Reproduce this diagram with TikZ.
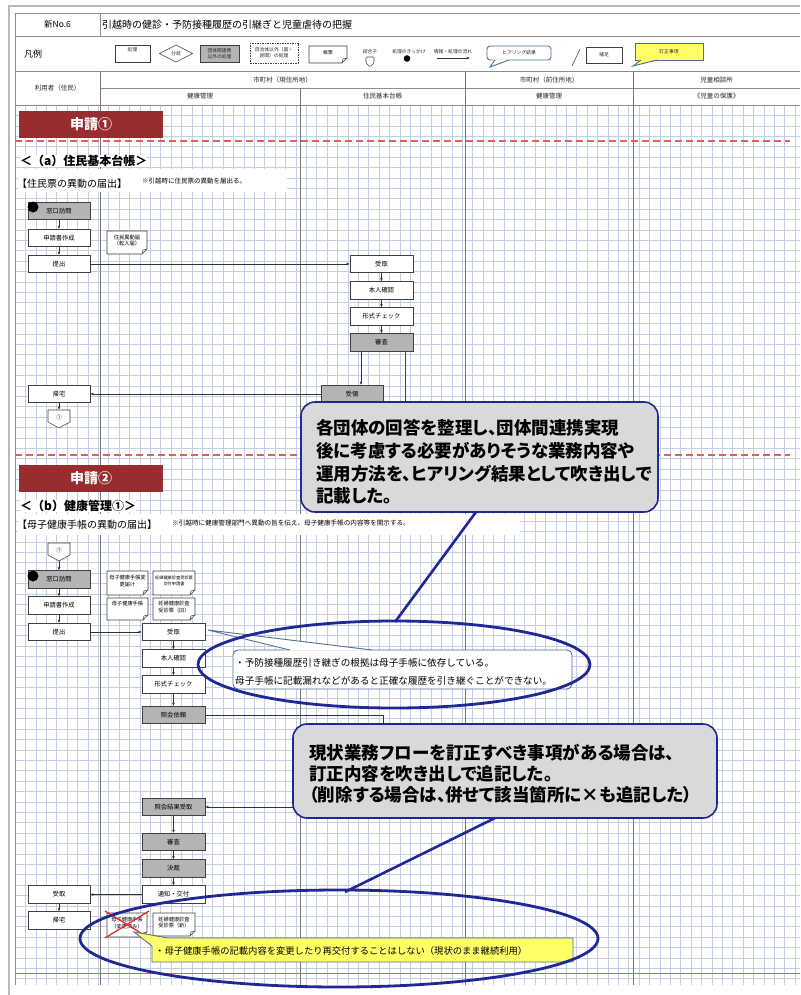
\documentclass[tikz,border=0pt]{standalone}
\usepackage{fontspec}
\setmainfont{Noto Sans CJK JP}
\newfontfamily\pjp{Noto Sans CJK JP}[RawFeature=+palt]
\usetikzlibrary{arrows.meta}
\definecolor{gridc}{RGB}{196,205,226}
\definecolor{lanec}{RGB}{120,120,120}
\definecolor{hdrc}{RGB}{140,140,140}
\definecolor{boxg}{RGB}{180,180,180}
\definecolor{secred}{RGB}{152,44,46}
\definecolor{dashred}{RGB}{222,96,96}
\definecolor{cblue}{RGB}{32,40,150}
\definecolor{cfill}{RGB}{217,217,219}
\definecolor{sblue}{RGB}{84,112,150}
\definecolor{yfill}{RGB}{255,255,102}
\definecolor{xred}{RGB}{225,45,45}
\newcommand\fsz[2]{\fontsize{#1}{#2}\selectfont}
% document shape: name x1 y1 x2 y2 size lead text
\newcommand\docnode[8]{%
  \draw[boxline,fill=white] (#2,#3) -- (#4,#3) -- (#4,{#5-5}) -- ({#4-5},#5) -- (#2,#5) -- cycle;
  \draw[boxline] (#4,{#5-5}) -- ({#4-4},{#5-4}) -- ({#4-5},#5);
  \node[inner sep=0,align=center,font=\fsz{#6}{#7}] (#1) at ({(#2+#4)/2},{(#3+#5)/2-2}) {#8};}
% off-page connector: name xcenter ytop
\newcommand\connode[3]{%
  \draw[boxline,fill=white] ({#2-11},#3) -- ({#2+11},#3) -- ({#2+11},{#3+12}) -- (#2,{#3+18}) -- ({#2-11},{#3+12}) -- cycle;
  \node[inner sep=0,minimum width=22,minimum height=18] (#1) at (#2,{#3+9}) {};
  \node[inner sep=0,font=\fsz{5.5}{6}] (#1t) at (#2,{#3+7}) {①};}
\begin{document}
\begin{tikzpicture}[x=1pt,y=-1pt,
 boxline/.style={draw=black!75,line width=0.55},
 proc/.style={boxline,fill=white,minimum width=62,minimum height=17.5,inner sep=0,font=\fsz{6.3}{7.5}},
 procg/.style={proc,fill=boxg},
 arr/.style={-{Latex[length=3.2pt,width=2.8pt]},line width=0.55,draw=black!80},
 ln/.style={line width=0.55,draw=black!75},
 hdr/.style={draw=hdrc,line width=0.8},
 lane/.style={draw=lanec,line width=0.8},
 htext/.style={inner sep=0,font=\fsz{6.5}{7.5},text=black!85},
 ltext/.style={inner sep=0,font=\fsz{4.8}{5.8},text=black!85},
 sec/.style={fill=secred,minimum width=144,minimum height=27,inner sep=0,text=white,font=\fsz{14}{16}\bfseries},
 big/.style={draw=cblue,fill=cfill,line width=1.6,rounded corners=14},
 ptr/.style={draw=cblue,line width=2.6},
 ell/.style={draw=cblue,line width=2.8},
 rdash/.style={draw=dashred,line width=1.3,dash pattern=on 7pt off 4pt},
 sub/.style={inner sep=0,anchor=west,font=\fsz{12}{14}\bfseries},
]
\useasboundingbox (0,0) rectangle (800,995);
\fill[white] (0,0) rectangle (800,995);
% grid
\foreach \i in {0,...,75}{\draw[gridc,line width=0.4] ({15+\i*10.4},105) -- ({15+\i*10.4},985);}
\foreach \j in {0,...,84}{\draw[gridc,line width=0.4] (15,{105+\j*10.4}) -- (800,{105+\j*10.4});}
% outer frame
\draw[gray!55,line width=2] (8,6) -- (800,6);
\draw[gray!55,line width=1.4] (9,6) -- (9,995);
% header table
\draw[hdr] (15,13) -- (800,13);
\draw[hdr] (15,36) -- (800,36);
\draw[hdr] (15,71) -- (800,71);
\draw[hdr] (100,88) -- (800,88);
\draw[hdr] (15,105) -- (800,105);
\draw[hdr] (15,13) -- (15,985);
\draw[hdr] (100,13) -- (100,36);
\draw[lane] (100,71) -- (100,985);
\draw[lane] (300,88) -- (300,985);
\draw[lane] (465,71) -- (465,985);
\draw[lane] (633,71) -- (633,985);
% title row
\node[inner sep=0,font=\fsz{8.5}{10}] (t1) at (57.5,24.5) {新No.6};
\node[inner sep=0,anchor=west,font=\fsz{10}{12}] (t2) at (102,24.5) {引越時の健診・予防接種履歴の引継ぎと児童虐待の把握};
\node[inner sep=0,font=\fsz{9}{10}] (t3) at (33,54) {凡例};
% legend
\draw[boxline] (115,45) rectangle (150,62);
\node[ltext] (lg1) at (132.5,50) {処理};
\draw[boxline,fill=white] (159.5,53.5) -- (176,45) -- (192.5,53.5) -- (176,62) -- cycle;
\node[ltext] (lg2) at (176,53.5) {分岐};
\draw[boxline,fill=boxg] (200,45) rectangle (239,62);
\node[ltext,align=center] (lg3) at (219.5,53.5) {団体間連携\\以外の処理};
\draw[boxline,dash pattern=on 1.5pt off 1pt] (250,43) rectangle (298,63);
\node[ltext,align=center] (lg4) at (274,53) {自治体以外（国・\\民間）の処理};
\docnode{lg5}{309}{46}{347}{63}{4.8}{5.8}{帳票}
\node[ltext] (lg6) at (370,52) {結合子};
\draw[boxline,fill=white,rounded corners=1.2] (366,57) -- (374,57) -- (374,63) -- (370,67) -- (366,63) -- cycle;
\node[ltext] (lg7) at (409,52) {処理のきっかけ};
\fill (407,58.5) circle (3.3);
\node[ltext] (lg8) at (453,52) {情報・処理の流れ};
\coordinate (la1) at (437,58);
\coordinate (la2) at (470,58);
\draw[arr] (la1) -- (la2);
\draw[draw=sblue,line width=0.9,fill=white,rounded corners=3] (487,46) rectangle (551,60);
\fill[white] (490,67) -- (494.5,59.3) -- (509.5,59.3) -- cycle;
\draw[draw=sblue,line width=0.9] (495,60) -- (490,67) -- (509,60);
\node[ltext] (lg9) at (519,53) {ヒアリング結果};
\draw[boxline] (572,66) -- (580,49);
\draw[boxline] (586,47) rectangle (622,63);
\node[ltext] (lg10) at (604,55) {補足};
\draw[draw=sblue,line width=0.9,fill=yfill] (635,43) rectangle (703,60);
\fill[yfill] (633,66) -- (640.5,59.3) -- (657.5,59.3) -- cycle;
\draw[draw=sblue,line width=0.9] (641,60) -- (633,66) -- (657,60);
\node[ltext] (lg11) at (669,51.5) {訂正事項};
% column headers
\node[htext] (h1) at (57.5,88) {利用者（住民）};
\node[htext] (h2) at (282.5,80) {市町村（現住所地）};
\node[htext] (h3) at (549,80) {市町村（前住所地）};
\node[htext] (h4) at (716.5,80) {児童相談所};
\node[htext] (h5) at (200,96.5) {健康管理};
\node[htext] (h6) at (382.5,96.5) {住民基本台帳};
\node[htext] (h7) at (549,96.5) {健康管理};
\node[htext] (h8) at (716.5,96.5) {《児童の保護》};
% section lines
\draw[rdash] (15,141) -- (790,141);
\draw[rdash] (15,455) -- (790,455);
\draw[draw=dashred,line width=0.8] (15,973) -- (800,973);
% ---------- section 1 ----------
\node[sec] (s1) at (91,124.5) {申請①};
\node[sub,fill=white] (ta) at (20,161) {＜（a）住民基本台帳＞};
\fill[white] (18,169) rectangle (287,192);
\node[inner sep=0,anchor=west,font=\fsz{10}{12}] (na) at (17,184) {【住民票の異動の届出】};
\node[inner sep=0,anchor=west,font=\fsz{6.5}{7.5}] (nna) at (142,181) {※引越時に住民票の異動を届出る。};
\node[procg] (a1) at (59,211) {窓口訪問};
\fill (33,207) circle (5.5);
\node[proc] (a2) at (59,238) {申請書作成};
\node[proc] (a3) at (59,264) {提出};
\docnode{da}{107}{231}{147}{254}{5.3}{6.6}{住民異動届\\（転入届）}
\node[proc,minimum width=63] (a4) at (381.5,264) {受取};
\node[proc,minimum width=63] (a5) at (381.5,290.5) {本人確認};
\node[proc,minimum width=63] (a6) at (381.5,316.5) {形式チェック};
\node[procg,minimum width=63] (a7) at (381.5,342.5) {審査};
\node[procg] (a8) at (352,394) {受領};
\node[proc] (a9) at (59,394) {帰宅};
\connode{ca}{59}{410}
\coordinate (h1x) at (405,430);
\draw[arr] (a1) -- (a2);
\draw[arr] (a2) -- (a3);
\draw[arr] (a3) -- (a4);
\draw[arr] (a4) -- (a5);
\draw[arr] (a5) -- (a6);
\draw[arr] (a6) -- (a7);
\draw[arr] ([xshift=-20.5]a7.south) -- ([xshift=-20.5]a7.south |- a8.north);
\draw[ln] (a7.south -| h1x) -- (h1x);
\draw[arr] (a8) -- (a9);
\draw[arr] (a9) -- (ca);
% ---------- section 2 ----------
\node[sec] (s2) at (91,478.5) {申請②};
\node[sub,fill=white] (tb) at (20,506) {＜（b）健康管理①＞};
\fill[white] (18,514) rectangle (520,535);
\node[inner sep=0,anchor=west,font=\fsz{10}{12}] (nb) at (17,525) {【母子健康手帳の異動の届出】};
\node[inner sep=0,anchor=west,font=\fsz{6.6}{7.5}] (nnb) at (172,523) {※引越時に健康管理部門へ異動の旨を伝え、母子健康手帳の内容等を開示する。};
\connode{cb}{59}{543}
\node[procg] (b1) at (59,579.5) {窓口訪問};
\fill (33,576) circle (5.5);
\node[proc] (b2) at (59,605.5) {申請書作成};
\node[proc] (b3) at (59,632) {提出};
\docnode{d1}{107}{571}{148}{595}{5.2}{6.6}{母子健康手帳変\\更届け}
\docnode{d2}{153}{571}{195}{595}{4.2}{5.6}{妊婦健康診査受診票\\交付申請書}
\docnode{d3}{107}{598}{148}{620}{5.2}{6.6}{母子健康手帳\\ }
\docnode{d4}{153}{598}{195}{620}{5.2}{6.6}{妊婦健康診査\\受診票（旧）}
\node[proc,minimum width=63] (r1) at (173.5,632) {受取};
\node[proc,minimum width=63] (r2) at (173.5,658.5) {本人確認};
\node[proc,minimum width=63] (r3) at (173.5,684.5) {形式チェック};
\node[procg,minimum width=63] (r4) at (173.5,715) {照会依頼};
\node[procg,minimum width=63] (r5) at (173.5,807) {照会結果受取};
\node[procg,minimum width=63] (r6) at (173.5,842) {審査};
\node[procg,minimum width=63] (r7) at (173.5,868.5) {決裁};
\node[proc,minimum width=63] (r8) at (173.5,894.5) {通知・交付};
\node[proc] (b4) at (59,894.5) {受取};
\node[proc] (b5) at (59,920.5) {帰宅};
\docnode{d5}{107}{913}{147}{937}{5.2}{6.6}{母子健康手帳\\（変更済み）}
\docnode{d6}{153}{913}{195}{936}{5.2}{6.6}{妊婦健康診査\\受診票（新）}
\draw[xred,line width=1.3] (105,911) -- (149,938);
\draw[xred,line width=1.3] (149,911) -- (105,938);
\coordinate (turn) at (383,0);
\draw[arr] (cb) -- (b1);
\draw[arr] (b1) -- (b2);
\draw[arr] (b2) -- (b3);
\draw[arr] (b3) -- (r1);
\draw[arr] (r1) -- (r2);
\draw[arr] (r2) -- (r3);
\draw[arr] (r3) -- (r4);
\draw[arr] (r4.east) -- (r4.east -| turn) -- (r5.east -| turn) -- (r5.east);
\draw[arr] (r5) -- (r6);
\draw[arr] (r6) -- (r7);
\draw[arr] (r7) -- (r8);
\draw[arr] (r8) -- (b4);
\draw[arr] (b4) -- (b5);
% hearing callout on 受取
\draw[draw=sblue,line width=0.9,fill=white,rounded corners=5] (233,650) rectangle (572,689);
\fill[white] (208,630) -- (289.5,650.6) -- (372.5,650.6) -- cycle;
\draw[draw=sblue,line width=0.9] (290,650) -- (208,630) -- (372,650);
\node[inner sep=0,anchor=west,align=left,font=\fsz{9.6}{18}] (k1) at (235,672) {・予防接種履歴引き継ぎの根拠は母子手帳に依存している。\\母子手帳に記載漏れなどがあると正確な履歴を引き継ぐことができない。};
% correction callout
\draw[draw=sblue,line width=0.9,fill=yfill] (134,932) -- (168,938) -- (573,938) -- (573,962) -- (152,962) -- (152,946) -- cycle;
\node[inner sep=0,anchor=west,font=\fsz{9.3}{11}] (k2) at (155,950.5) {・母子健康手帳の記載内容を変更したり再交付することはしない（現状のまま継続利用）};
% ellipses
\draw[ell] (394,664.5) ellipse [x radius=196, y radius=43.5];
\draw[ell] (339,938.5) ellipse [x radius=259, y radius=48.5];
% big callouts
\draw[big] (301,402) rectangle (658,512);
\node[inner sep=0,anchor=west,align=left,font=\pjp\bfseries\fsz{17.5}{22.7}] (c1) at (316,462) {各団体の回答を整理し、団体間連携実現\\後に考慮する必要がありそうな業務内容や\\運用方法を、ヒアリング結果として吹き出しで\\記載した。};
\coordinate (p1a) at (476,512);
\coordinate (p1b) at (395,622);
\draw[ptr] (p1a) -- (p1b);
\draw[big] (293,724) rectangle (717,818);
\node[inner sep=0,anchor=west,align=left,font=\pjp\bfseries\fsz{17.5}{21}] (c2) at (309,774) {現状業務フローを訂正すべき事項がある場合は、\\訂正内容を吹き出しで追記した。\\（削除する場合は、併せて該当箇所に×も追記した）};
\coordinate (p2a) at (495,818);
\coordinate (p2b) at (345,892);
\draw[ptr] (p2a) -- (p2b);
\end{tikzpicture}
\end{document}
